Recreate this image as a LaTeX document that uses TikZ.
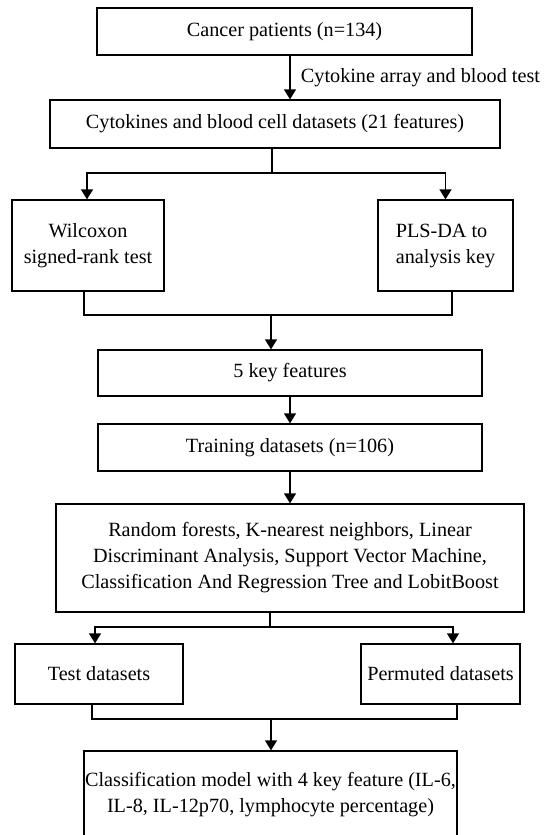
\documentclass[tikz,border=0pt]{standalone}
\usepackage{fontspec}
\setmainfont{Liberation Serif}
\usetikzlibrary{positioning,arrows.meta}

\begin{document}
\begin{tikzpicture}[x=1pt,y=-1pt,
    every node/.style={font=\fontsize{20.2}{26}\selectfont},
    box/.style={draw,line width=1.3pt,inner sep=0pt,align=center},
    line/.style={line width=1.3pt},
    >={Triangle[width=12pt,length=10pt]}]
    \useasboundingbox (0,0) rectangle (558,835);
    \clip (0,0) rectangle (558,835);
    % boxes
    \node[box,minimum width=375pt,minimum height=47pt] (patients) at (284.5,31.5) {Cancer patients (n=134)};
    \node[box,minimum width=450pt,minimum height=48pt] (cyto) at (275,124) {Cytokines and blood cell datasets (21 features)};
    \node[box,minimum width=152pt,minimum height=91pt] (wilcox) at (88,245.5) {Wilcoxon\\signed-rank test};
    \node[box,minimum width=135pt,minimum height=91pt,align=left] (plsda) at (445.5,245.5) {PLS-DA to\\analysis key};
    \node[box,minimum width=384pt,minimum height=46pt] (keyfeat) at (290,373) {5 key features};
    \node[box,minimum width=384pt,minimum height=47pt] (training) at (290,447.5) {Training datasets (n=106)};
    \node[box,minimum width=468pt,minimum height=108pt] (methods) at (290,558) {Random forests, K-nearest neighbors, Linear\\Discriminant Analysis, Support Vector Machine,\\Classification And Regression Tree and LobitBoost};
    \node[box,minimum width=168pt,minimum height=60pt] (test) at (99,674) {Test datasets};
    \node[box,minimum width=159pt,minimum height=60pt] (permuted) at (440.5,674) {Permuted datasets};
    \node[box,minimum width=373pt,minimum height=88pt] (model) at (270.5,795) {Classification model with 4 key feature (IL-6,\\IL-8, IL-12p70, lymphocyte percentage)};
    % branch points
    \coordinate (spine) at (290,0);
    \coordinate (splitA) at (272,173);
    \coordinate (mergeA) at (271,315);
    \coordinate (splitB) at (270,627);
    \coordinate (mergeB) at (271,719);
    % connectors
    \draw[line,->] (patients.south -| spine) -- (cyto.north -| spine)
        node[midway,right=7pt] {Cytokine array and blood test};
    \draw[line] (cyto.south -| splitA) -- (splitA);
    \draw[line,->] (splitA) -| ([xshift=-1pt]wilcox.north);
    \draw[line,->] (splitA) -| (plsda.north);
    \draw[line] ([xshift=-4pt]wilcox.south) |- (mergeA);
    \draw[line] ([xshift=6.5pt]plsda.south) |- (mergeA);
    \draw[line,->] (mergeA) -- (keyfeat.north -| mergeA);
    \draw[line,->] (keyfeat) -- (training);
    \draw[line,->] (training) -- (methods);
    \draw[line] (methods.south -| splitB) -- (splitB);
    \draw[line,->] (splitB) -| ([xshift=-4pt]test.north);
    \draw[line,->] (splitB) -| ([xshift=12.5pt]permuted.north);
    \draw[line] ([xshift=-7pt]test.south) |- (mergeB);
    \draw[line] ([xshift=16.5pt]permuted.south) |- (mergeB);
    \draw[line,->] (mergeB) -- (model.north -| mergeB);
\end{tikzpicture}
\end{document}
